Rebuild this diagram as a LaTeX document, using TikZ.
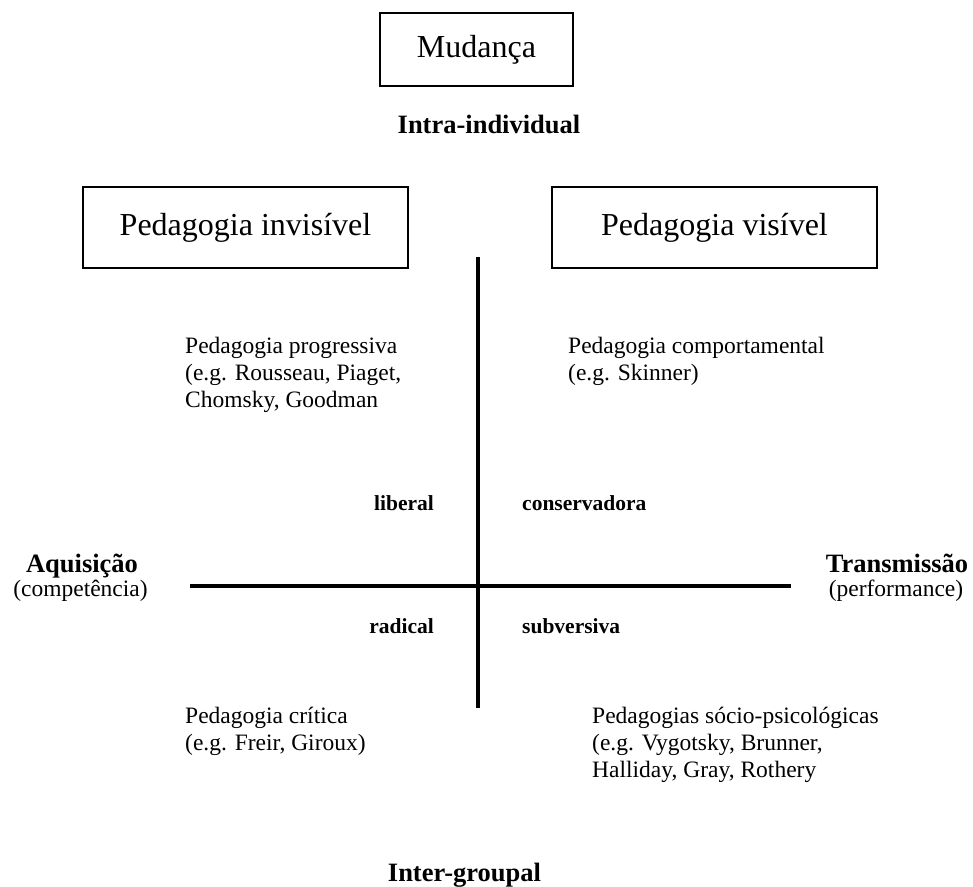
\documentclass[tikz,border=0pt]{standalone}
\usepackage{fontspec}
\setmainfont{Liberation Serif}
\begin{document}
\begin{tikzpicture}[x=1pt,y=-1pt,
  titlebox/.style={draw,line width=1.8pt,minimum width=325pt,minimum height=81pt,
    inner sep=0pt,font=\fontsize{32}{36}\selectfont},
  axislabel/.style={anchor=base,inner sep=0pt,font=\bfseries\fontsize{26.5}{30}\selectfont},
  sublabel/.style={anchor=base,inner sep=0pt,font=\fontsize{23.5}{27}\selectfont},
  quadlabel/.style={inner sep=0pt,font=\bfseries\fontsize{21.5}{25}\selectfont},
  block/.style={anchor=base west,inner sep=0pt,font=\fontsize{23.5}{27}\selectfont},
  axis/.style={line width=4.4pt}]
\useasboundingbox (0,0) rectangle (973,886);

% top box and the two pedagogy boxes
\node[titlebox,minimum width=193pt,minimum height=73pt] (mud) at (476.5,49.5) {Mudança};
\node[axislabel] (intra) at (489,133) {Intra-individual};
\node[titlebox] (inv) at (245.5,227.5) {Pedagogia invisível};
\node[titlebox] (vis) at (714.5,227.5) {Pedagogia visível};

% axes
\coordinate (vtop) at (478,257);
\coordinate (vbot) at (478,708);
\coordinate (hleft) at (190,586);
\coordinate (hright) at (791,586);
\draw[axis] (vtop) -- (vbot);
\draw[axis] (hleft) -- (hright);

% axis end labels
\node[axislabel] (aq) at (82,572) {Aquisição};
\node[sublabel] (comp) at (80.5,596) {(competência)};
\node[axislabel] (tr) at (897,572) {Transmissão};
\node[sublabel] (perf) at (896,596) {(performance)};

% quadrant labels
\node[quadlabel,anchor=base east] (lib) at (434,510) {liberal};
\node[quadlabel,anchor=base west] (cons) at (522,510) {conservadora};
\node[quadlabel,anchor=base east] (rad) at (434,633) {radical};
\node[quadlabel,anchor=base west] (sub) at (522,633) {subversiva};

% quadrant contents, first line on the anchor's baseline
\node[block] (prog) at (185,353) {\begin{tabular}[t]{@{}l@{}}Pedagogia progressiva\\(e.g. Rousseau, Piaget,\\Chomsky, Goodman\end{tabular}};
\node[block] (behav) at (568,353) {\begin{tabular}[t]{@{}l@{}}Pedagogia comportamental\\(e.g. Skinner)\end{tabular}};
\node[block] (crit) at (185,723) {\begin{tabular}[t]{@{}l@{}}Pedagogia crítica\\(e.g. Freir, Giroux)\end{tabular}};
\node[block] (socio) at (592,723) {\begin{tabular}[t]{@{}l@{}}Pedagogias sócio-psicológicas\\(e.g. Vygotsky, Brunner,\\Halliday, Gray, Rothery\end{tabular}};

% bottom label
\node[axislabel] (inter) at (464.5,881) {Inter-groupal};
\end{tikzpicture}
\end{document}
